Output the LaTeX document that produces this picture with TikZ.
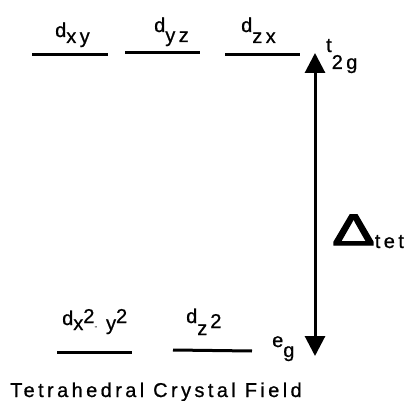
\documentclass[tikz,border=0pt]{standalone}
\usepackage{fontspec}
\setmainfont{Liberation Sans}[LetterSpace=17, FakeBold=0.8]
\newfontfamily\deltafont{Liberation Sans}[FakeBold=2.5]
\usepackage{graphicx}
\usetikzlibrary{arrows.meta}

\newcommand{\lsub}[2][6pt]{\raisebox{-#1}{#2}}
\newcommand{\lsup}[2][6pt]{\raisebox{#1}{#2}}

\begin{document}
\begin{tikzpicture}[
  x=1pt, y=-1pt,
  level/.style={line width=3pt},
  lbl/.style={anchor=base west, inner sep=0pt, font=\fontsize{20}{22}\selectfont},
  gap/.style={line width=3pt, {Triangle[length=20pt,width=20pt]}-{Triangle[length=20pt,width=20pt]}}
]
\useasboundingbox (0,0) rectangle (407,401);

% t2g levels
\draw[level] (32,55) -- (108,55);
\draw[level] (125,53) -- (200,53);
\draw[level] (225,55) -- (300,55);
\node[lbl] (dxy) at (55,37) {d\lsub{xy}};
\node[lbl] (dyz) at (154,32) {d\lsub[10pt]{yz}};
\node[lbl] (dzx) at (241,32) {d\lsub[11pt]{zx}};

% eg levels
\draw[level] (57,352) -- (132,352);
\draw[level] (173,350) -- (252,351);
\node[lbl] (dx2y2) at (62,325) {d\lsub[5pt]{x\lsup[7pt]{2}\lsup[1pt]{\footnotesize -} y\lsup[7pt]{2}}};
\node[lbl] (dz2) at (186,323) {d\lsub[12pt]{z\kern3pt\lsup[7pt]{2}}};

% splitting
\coordinate (t2gtop) at (315,53);
\coordinate (egbot) at (315,356);
\draw[gap] (t2gtop) -- (egbot);
\node[lbl] (t2g) at (326,52) {t\lsub[17pt]{2g}};
\node[lbl] (eg) at (272,347) {e\lsub[10pt]{g}};
\node[lbl] (delta) at (332,245) {{\deltafont\fontsize{44}{44}\selectfont\scalebox{1.45}[1]{Δ}}\lsub[3pt]{tet}};

\node[lbl] (title) at (10,397) {Tetrahedral Crystal Field};
\end{tikzpicture}
\end{document}
